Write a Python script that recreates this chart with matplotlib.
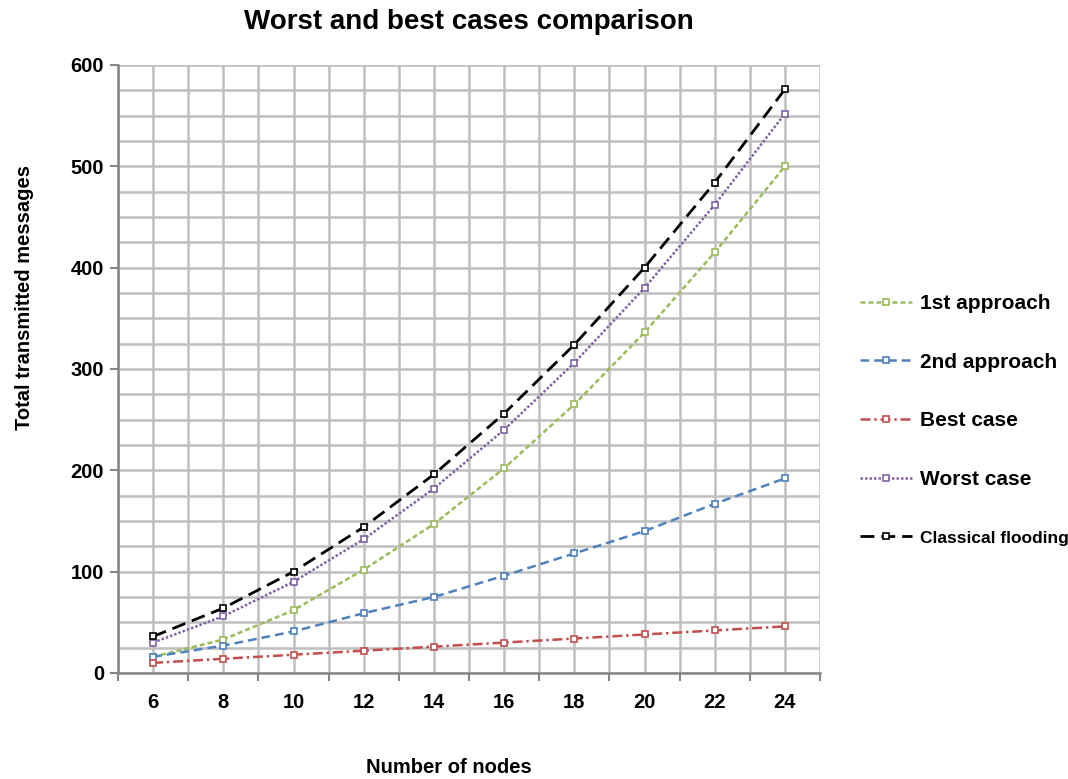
import numpy as np
import matplotlib
matplotlib.use('Agg')
import matplotlib.pyplot as plt

plt.rcParams['font.family'] = ['Liberation Sans', 'DejaVu Sans']
plt.rcParams['font.weight'] = 'bold'

nodes = [6, 8, 10, 12, 14, 16, 18, 20, 22, 24]
first_approach = [16, 33, 62, 102, 147, 202, 265, 336, 415, 500]
second_approach = [16, 27, 41, 59, 75, 96, 118, 140, 167, 192]
best_case = [10, 14, 18, 22, 26, 30, 34, 38, 42, 46]
worst_case = [30, 56, 90, 132, 182, 240, 306, 380, 462, 552]
classical = [36, 64, 100, 144, 196, 256, 324, 400, 484, 576]

series = [
    ('1st approach', first_approach, '#9BBB59', (0, (2, 1.2)), 1.8),
    ('2nd approach', second_approach, '#4F81BD', (0, (3.5, 2)), 1.8),
    ('Best case', best_case, '#C0504D', (0, (4, 1.5, 1, 1.5)), 1.8),
    ('Worst case', worst_case, '#8064A2', (0, (1, 0.8)), 1.8),
    ('Classical flooding', classical, '#000000', (0, (5, 2.5)), 2.0),
]

fig = plt.figure(figsize=(10.68, 7.79), dpi=100)
ax = fig.add_axes([0.1105, 0.1361, 0.6573, 0.7805])

for name, vals, col, ls, lw in series:
    ax.plot(nodes, vals, color=col, linestyle=ls, linewidth=lw, marker='s',
            markersize=4, markerfacecolor='white', markeredgecolor=col,
            markeredgewidth=1.2, label=name)

ax.set_xlim(5, 25)
ax.set_ylim(0, 600)
ax.set_yticks(np.arange(0, 601, 100))
ax.set_yticks(np.arange(0, 601, 25), minor=True)
ax.set_xticks(np.arange(5, 26, 2))
ax.set_xticks(np.arange(5, 26, 1), minor=True)
ax.set_xticklabels([])
for n in nodes:
    ax.text(n, -29, str(n), ha='center', va='center', fontsize=14.5,
            fontweight='bold', transform=ax.transData, clip_on=False)

ax.grid(which='both', color='#BFBFBF', linewidth=1.8)
ax.set_axisbelow(True)
ax.tick_params(axis='y', which='major', length=6, width=1.5, color='#868686',
               labelsize=14.5, pad=4)
ax.tick_params(axis='x', which='major', length=6, width=1.5, color='#868686')
ax.tick_params(which='minor', length=0)
for lab in ax.get_yticklabels():
    lab.set_fontweight('bold')

for s in ['top', 'right']:
    ax.spines[s].set_visible(False)
for s in ['left', 'bottom']:
    ax.spines[s].set_color('#868686')
    ax.spines[s].set_linewidth(1.8)

ax.set_title('Worst and best cases comparison', fontsize=20, fontweight='bold', pad=26)
ax.set_xlabel('Number of nodes', fontsize=14.5, fontweight='bold', va='center')
ax.xaxis.set_label_coords(0.471, -0.155)
ax.set_ylabel('Total transmitted messages', fontsize=14.5, fontweight='bold', va='center')
ax.yaxis.set_label_coords(-0.133, 0.617)

leg = ax.legend(loc='center left', bbox_to_anchor=(1.03, 0.416), frameon=False,
                fontsize=15, labelspacing=1.9, handlelength=2.5, handletextpad=0.4)
for t in leg.get_texts():
    t.set_fontweight('bold')
leg.get_texts()[-1].set_fontsize(12.5)

fig.savefig('out.png', dpi=100)
